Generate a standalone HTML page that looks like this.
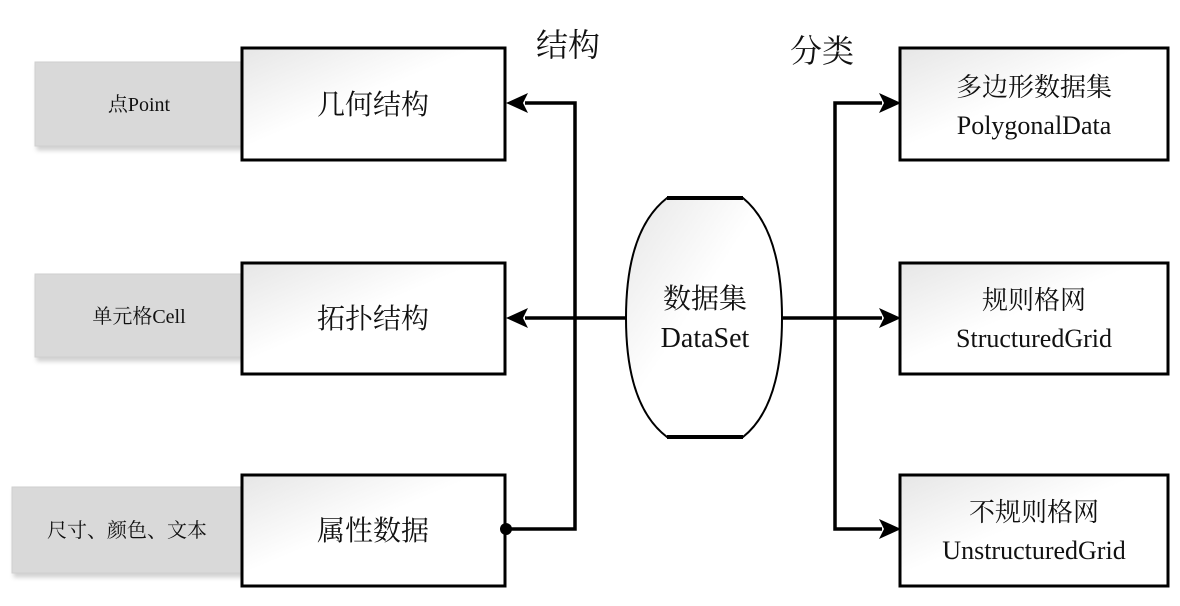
<!DOCTYPE html>
<html><head><meta charset="utf-8"><style>
body{margin:0;background:#fff;}
svg text{font-family:"Liberation Serif","Noto Serif CJK SC","Noto Sans CJK SC",serif;fill:#111;}
</style></head><body>
<svg width="1180" height="601" viewBox="0 0 1180 601" xmlns="http://www.w3.org/2000/svg">
<defs>
<linearGradient id="g" x1="0" y1="0" x2="1" y2="1"><stop offset="0" stop-color="#e6e6e6"/><stop offset="0.45" stop-color="#ffffff"/><stop offset="1" stop-color="#ffffff"/></linearGradient>
<filter id="sh"><feDropShadow dx="2" dy="4" stdDeviation="2" flood-color="#000" flood-opacity="0.18"/></filter>
</defs>
<!-- gray boxes -->
<rect x="35" y="62" width="207" height="84" fill="#d9d9d9" stroke="#cfcfcf" filter="url(#sh)"/>
<rect x="35" y="274" width="207" height="83" fill="#d9d9d9" stroke="#cfcfcf" filter="url(#sh)"/>
<rect x="12" y="487" width="230" height="86" fill="#d9d9d9" stroke="#cfcfcf" filter="url(#sh)"/>
<text x="139" y="111" font-size="20" text-anchor="middle">点Point</text>
<text x="139" y="323" font-size="20" text-anchor="middle">单元格Cell</text>
<text x="127" y="537" font-size="20" text-anchor="middle">尺寸、颜色、文本</text>
<!-- left white boxes -->
<g fill="url(#g)" stroke="#000" stroke-width="3">
<rect x="242" y="48" width="263" height="112"/>
<rect x="242" y="263" width="263" height="111"/>
<rect x="242" y="475" width="263" height="111"/>
<rect x="900" y="48" width="268" height="112"/>
<rect x="900" y="263" width="268" height="111"/>
<rect x="900" y="475" width="268" height="111"/>
</g>
<text x="373" y="114" font-size="28" text-anchor="middle">几何结构</text>
<text x="373" y="328" font-size="28" text-anchor="middle">拓扑结构</text>
<text x="373" y="540" font-size="28" text-anchor="middle">属性数据</text>
<text x="1034" y="96" font-size="26" text-anchor="middle">多边形数据集</text>
<text x="1034" y="134" font-size="26" text-anchor="middle">PolygonalData</text>
<text x="1034" y="309" font-size="26" text-anchor="middle">规则格网</text>
<text x="1034" y="347" font-size="26" text-anchor="middle">StructuredGrid</text>
<text x="1034" y="521" font-size="26" text-anchor="middle">不规则格网</text>
<text x="1034" y="559" font-size="26" text-anchor="middle">UnstructuredGrid</text>
<text x="568" y="56" font-size="32" text-anchor="middle">结构</text>
<text x="822" y="62" font-size="32" text-anchor="middle">分类</text>
<!-- connectors -->
<g stroke="#000" stroke-width="3.5" fill="none">
<polyline points="525,103 575,103 575,529 505,529"/>
<line x1="525" y1="318" x2="627" y2="318"/>
<line x1="781" y1="318" x2="882" y2="318"/>
<polyline points="882,103 835,103 835,529 882,529"/>
</g>
<g fill="#000">
<polygon points="506,103 528,93 523,103 528,113"/>
<polygon points="506,318 528,308 523,318 528,328"/>
<polygon points="901,103 879,93 884,103 879,113"/>
<polygon points="901,318 879,308 884,318 879,328"/>
<polygon points="901,529 879,519 884,529 879,539"/>
<circle cx="506" cy="529" r="6"/>
</g>
<!-- DataSet -->
<path d="M667,198 L743,198 Q782,230 782,318 Q782,406 743,437 L667,437 Q626,406 626,318 Q626,230 667,198 Z" fill="url(#g)" stroke="#000" stroke-width="2"/>
<line x1="667" y1="198" x2="743" y2="198" stroke="#000" stroke-width="4"/>
<line x1="667" y1="437" x2="743" y2="437" stroke="#000" stroke-width="4"/>
<text x="705" y="308" font-size="28" text-anchor="middle">数据集</text>
<text x="705" y="347" font-size="28" text-anchor="middle">DataSet</text>
</svg>
</body></html>
